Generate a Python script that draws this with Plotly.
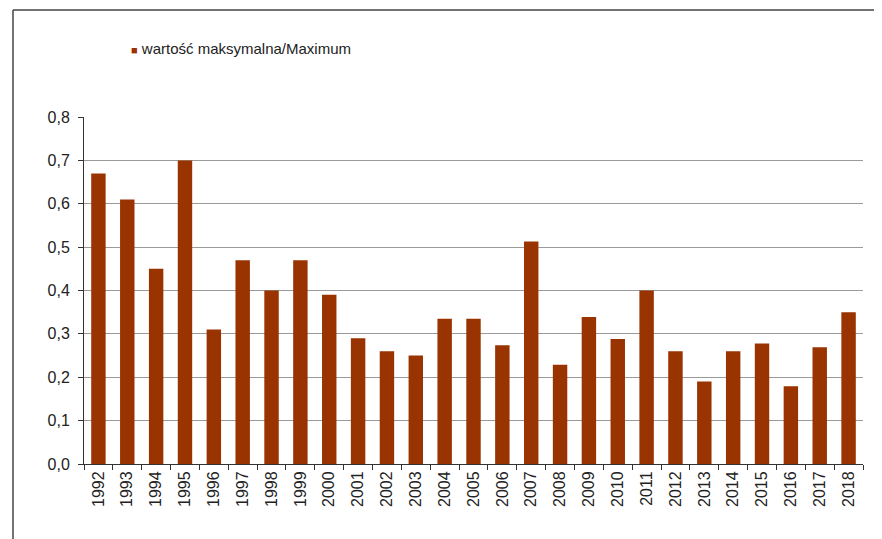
import plotly.graph_objects as go

years = [str(y) for y in range(1992, 2019)]
maximum = [0.67, 0.61, 0.45, 0.70, 0.31, 0.47, 0.40, 0.47, 0.39, 0.29, 0.26, 0.25,
           0.335, 0.335, 0.274, 0.513, 0.229, 0.339, 0.288, 0.40, 0.26, 0.19, 0.26,
           0.278, 0.179, 0.269, 0.35]
y_ticks = [0.0, 0.1, 0.2, 0.3, 0.4, 0.5, 0.6, 0.7, 0.8]
series_name = "wartość maksymalna/Maximum"
bar_color = "#993300"

OFF = 8  # page body margin
W, H = 882 - OFF, 539 - OFF
L, R, T, B = 84 - OFF, 19, 117 - OFF, 75
pw, ph = W - L - R, H - T - B

def px_x(x):  # page pixel -> paper x
    return (x - OFF - L) / pw

def px_y(y):  # page pixel -> paper y
    return (H - B - (y - OFF)) / ph

fig = go.Figure()
fig.add_trace(go.Bar(x=years, y=maximum, name=series_name, showlegend=False,
                     marker=dict(color=bar_color, line=dict(width=0))))

fig.update_layout(
    width=W, height=H,
    margin=dict(l=L, r=R, t=T, b=B, autoexpand=False),
    paper_bgcolor="white", plot_bgcolor="white",
    separators=", ",
    font=dict(family="Liberation Sans, Arial, sans-serif", color="#222222"),
    bargap=0.5,
    showlegend=False,
    xaxis=dict(type="category", tickangle=-90, tickfont=dict(size=16, color="#222222"),
               showline=True, linecolor="#333333", linewidth=1,
               ticks="outside", tickson="boundaries", ticklen=5, tickcolor="#333333",
               showgrid=False),
    yaxis=dict(range=[0, 0.8], tickvals=y_ticks, tickformat=".1f",
               tickfont=dict(size=16, color="#222222"), ticklabelstandoff=5,
               showline=True, linecolor="#333333", linewidth=1,
               ticks="outside", ticklen=5, tickcolor="#333333",
               showgrid=True, gridcolor="#9a9a9a", gridwidth=1, zeroline=False),
)

# legend drawn as annotation (colored square + label)
fig.add_annotation(xref="paper", yref="paper", x=px_x(129), y=px_y(49),
                   xanchor="left", yanchor="middle", showarrow=False,
                   text=(f"<span style='color:{bar_color};font-size:11px'>■</span> "
                         f"{series_name}"),
                   font=dict(size=15, color="#222222"))

# outer frame (left and top border)
x_left = px_x(13)
y_top = px_y(10)
fig.add_shape(type="line", xref="paper", yref="paper", x0=x_left, x1=x_left,
              y0=-B / ph - 0.05, y1=y_top, line=dict(color="#444444", width=1.5))
fig.add_shape(type="line", xref="paper", yref="paper", x0=x_left, x1=px_x(W + 20),
              y0=y_top, y1=y_top, line=dict(color="#444444", width=1.5))

fig.write_html("out.html")
